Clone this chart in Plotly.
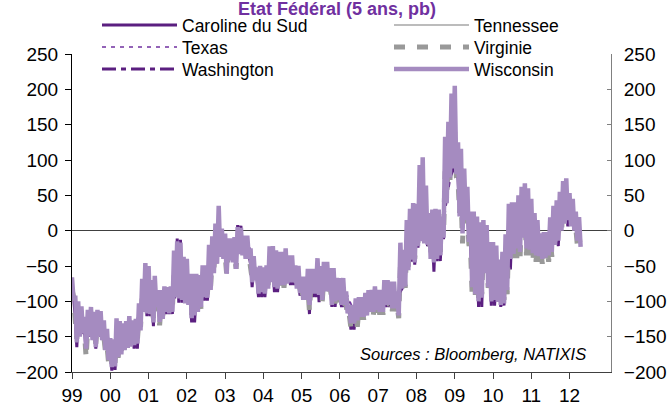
import plotly.graph_objects as go

# ---------------- data (basis points), monthly Jan 1999 - Apr 2012 ----------------
# Wisconsin: monthly high / low
wis_high = [
    -66, -92, -100, -107, -122, -112, -108, -115, -112, -114, -127, -139,
    -152, -154, -124, -128, -131, -128, -121, -127, -125, -103, -68, -46,
    -50, -70, -64, -84, -84, -79, -80, -79, -28, -15, -17, -37,
    -40, -61, -61, -61, -63, -49, -49, -20, -8, 10, 35, 3,
    -4, -11, -11, -9, 5, 4, -7, -7, -25, -36, -52, -50,
    -52, -49, -22, -22, -28, -30, -30, -25, -35, -35, -49, -50,
    -65, -65, -54, -54, -54, -39, -50, -44, -44, -53, -53, -67,
    -67, -67, -86, -105, -105, -96, -94, -94, -88, -84, -84, -79,
    -84, -84, -70, -70, -72, -72, -86, -17, -27, 15, 31, 39,
    38, 93, 104, 64, 25, 30, 31, 30, 20, 133, 154, 194,
    205, 125, 116, 88, 62, 27, 27, 20, 12, 15, 8, -16,
    -16, -21, -41, -30, -5, 38, 40, 40, 50, 62, 67, 60,
    45, 25, 15, -4, -2, -2, 19, 35, 43, 55, 70, 74,
    53, 45, 27, 19,
]
wis_low = [
    -98, -158, -150, -145, -167, -150, -155, -165, -150, -155, -169, -183,
    -193, -192, -179, -175, -169, -166, -164, -162, -160, -141, -115, -117,
    -118, -130, -108, -129, -125, -115, -117, -115, -94, -96, -98, -103,
    -105, -124, -120, -115, -108, -94, -95, -84, -60, -47, -37, -40,
    -61, -42, -45, -54, -33, -35, -40, -40, -73, -70, -89, -87,
    -89, -82, -73, -80, -82, -77, -77, -75, -73, -73, -82, -88,
    -98, -98, -105, -89, -89, -91, -98, -86, -86, -105, -100, -98,
    -105, -105, -117, -131, -131, -127, -122, -122, -120, -115, -115, -112,
    -115, -115, -105, -105, -110, -110, -120, -82, -79, -56, -41, -45,
    -22, -15, -18, -20, -40, -45, -40, -35, -10, 39, 75, 88,
    80, 20, -4, 15, -16, -80, -90, -100, -95, -60, -80, -100,
    -98, -101, -105, -103, -84, -40, -33, -25, -30, -10, -25, -27,
    -32, -35, -36, -40, -38, -35, -30, -20, -14, 0, 10, 15,
    6, 0, -14, -23,
]
# Caroline du Sud: monthly high / low
car_high = [
    -80, -123, -123, -124, -142, -129, -129, -138, -129, -132, -146, -159,
    -170, -171, -149, -149, -148, -145, -140, -142, -140, -120, -89, -79,
    -82, -98, -84, -104, -102, -95, -96, -95, -59, -11, -13, -68,
    -70, -90, -88, -86, -83, -69, -70, -50, -32, -16, 1, -16,
    -30, -24, -26, -29, 8, 7, -21, -21, -47, -51, -68, -66,
    -68, -63, -45, -49, -53, -51, -51, -48, -52, -52, -63, -67,
    -79, -79, -77, -69, -69, -63, -72, -63, -63, -77, -74, -80,
    -84, -84, -99, -116, -116, -109, -106, -106, -102, -97, -97, -93,
    -97, -97, -85, -85, -89, -89, -101, -47, -51, -18, -3, -1,
    10, 41, 45, 24, -5, -5, -2, 0, 7, 88, 116, 143,
    144, 74, 58, 53, 25, -24, -29, -38, -39, -20, -34, -56,
    -55, -59, -71, -64, -42, 1, 5, 9, 12, 28, 23, 18,
    8, -3, -8, -20, -18, -16, -3, 9, 16, 29, 42, 46,
    31, 24, 8, 0,
]
car_low = [
    -93, -165, -145, -140, -172, -145, -150, -167, -145, -150, -164, -178,
    -198, -197, -174, -170, -164, -161, -159, -167, -167, -136, -110, -121,
    -121, -135, -103, -124, -120, -118, -118, -118, -89, -102, -102, -98,
    -100, -130, -130, -110, -103, -99, -99, -79, -55, -42, -32, -35,
    -56, -37, -40, -49, -28, -30, -35, -35, -80, -65, -94, -94,
    -94, -77, -68, -87, -87, -72, -72, -70, -77, -77, -77, -92,
    -93, -93, -118, -94, -94, -101, -93, -81, -81, -108, -108, -93,
    -108, -108, -112, -140, -140, -122, -117, -117, -115, -110, -110, -107,
    -110, -110, -108, -108, -105, -105, -115, -77, -74, -51, -44, -48,
    -24, -10, -13, -22, -35, -58, -43, -43, -12, 44, 80, 93,
    85, 25, 1, 20, -11, -75, -85, -108, -108, -55, -75, -106,
    -106, -96, -108, -106, -79, -55, -28, -20, -25, -5, -20, -22,
    -27, -30, -31, -35, -33, -30, -25, -15, -22, 5, 15, 6,
    11, 5, -9, -18,
]
# Virginie: monthly high / low
vir_high = [
    -84, -127, -127, -128, -146, -133, -133, -142, -133, -136, -150, -163,
    -174, -175, -153, -153, -152, -149, -144, -146, -144, -124, -93, -83,
    -86, -102, -88, -108, -106, -99, -100, -99, -63, -57, -59, -72,
    -74, -94, -92, -90, -87, -73, -74, -54, -36, -20, -3, -20,
    -34, -28, -30, -33, -16, -17, -25, -25, -51, -55, -72, -70,
    -72, -67, -49, -53, -57, -55, -55, -52, -56, -56, -67, -71,
    -83, -83, -81, -73, -73, -67, -76, -67, -67, -81, -78, -84,
    -88, -88, -103, -120, -120, -113, -110, -110, -106, -101, -101, -97,
    -101, -101, -89, -89, -93, -93, -105, -51, -55, -22, -7, -5,
    6, 37, 41, 20, -9, -9, -6, -4, 3, 84, 112, 139,
    140, 70, 54, 49, 21, -28, -33, -42, -43, -24, -38, -60,
    -59, -63, -75, -68, -46, -3, 1, 5, 8, 24, 19, 14,
    4, -7, -12, -24, -22, -20, -7, 5, 12, 25, 38, 42,
    27, 20, 4, -4,
]
vir_low = [
    -93, -153, -145, -140, -180, -145, -150, -160, -157, -150, -171, -187,
    -188, -187, -180, -170, -168, -161, -159, -157, -155, -136, -110, -112,
    -113, -125, -103, -134, -120, -110, -112, -110, -89, -91, -93, -98,
    -100, -119, -115, -110, -111, -89, -90, -79, -55, -42, -32, -35,
    -61, -37, -40, -54, -28, -30, -35, -35, -68, -65, -84, -82,
    -84, -77, -68, -75, -77, -81, -81, -70, -68, -68, -77, -83,
    -101, -101, -114, -84, -84, -86, -100, -88, -88, -100, -103, -101,
    -103, -103, -124, -138, -138, -136, -126, -126, -124, -119, -119, -116,
    -119, -119, -107, -107, -114, -114, -124, -86, -81, -51, -36, -40,
    -17, -10, -13, -15, -35, -40, -35, -30, -5, 44, 70, 84,
    76, 25, -18, 20, -20, -91, -91, -95, -90, -55, -81, -95,
    -93, -96, -100, -98, -90, -35, -39, -39, -39, -5, -35, -35,
    -44, -44, -44, -47, -44, -44, -37, -15, -9, -4, 15, 20,
    11, 5, -21, -30,
]
# Quarterly readings (mid-quarter) for the series mostly hidden under Wisconsin
ten_q = [-125, -145, -140, -148, -173, -150, -145, -92, -100, -105, -97, -58, -92, -85,
         -52, 0, -26, -14, -23, -70, -65, -55, -50, -65, -81, -71, -65, -76, -86, -118,
         -108, -100, -100, -100, -80, -5, 39, -7, -10, 80, 110, 23, -40, -36, -61, -45,
         8, 21, -5, -20, 8, 40, 22, -2]
tex_q = [-120, -141, -135, -144, -168, -146, -141, -90, -96, -101, -93, -54, -88, -81,
         -48, 4, -22, -11, -19, -66, -61, -51, -46, -61, -77, -67, -61, -72, -82, -114,
         -104, -96, -96, -96, -78, -1, 43, -3, -6, 84, 114, 27, -36, -32, -57, -41,
         12, 25, -1, -16, 12, 44, 26, 2]
was_q = [-130, -150, -145, -152, -178, -155, -149, -96, -105, -110, -102, -62, -97, -90,
         -56, -4, -30, -18, -27, -74, -69, -59, -54, -69, -85, -75, -69, -80, -90, -122,
         -112, -104, -104, -104, -82, -9, 35, -11, -12, 76, 106, 19, -44, -40, -65, -49,
         4, 17, -9, -24, 4, 36, 18, -6]

year_labels = ['99', '00', '01', '02', '03', '04', '05', '06', '07', '08', '09', '10', '11', '12']
year_ticks = [f"{1999 + i}-01-01" for i in range(len(year_labels))]
y_ticks = [-200, -150, -100, -50, 0, 50, 100, 150, 200, 250]

# ---------------- x positions ----------------
n = len(wis_high)
month_keys = [f"{1999 + i // 12}-{i % 12 + 1:02d}" for i in range(n)]


def zigzag(highs, lows):
    xs, ys = [], []
    for k, hi, lo in zip(month_keys, highs, lows):
        xs += [k + "-01", k + "-16"]
        ys += [hi, lo]
    return xs, ys


q_idx = list(range(1, 158, 3)) + [159]
q_dates = [month_keys[i] + "-16" for i in q_idx]

DARK = '#5B1F80'
PURPLE = '#7030A0'
LIGHT = '#A58BC0'
W, H = 670, 412
L, R, T, B = 72, 59, 54, 40

fig = go.Figure()
x, y = zigzag(car_high, car_low)
fig.add_trace(go.Scatter(x=x, y=y, mode='lines', name='Caroline du Sud', legend='legend',
                         yaxis='y', line=dict(color=DARK, width=3)))
fig.add_trace(go.Scatter(x=q_dates, y=ten_q, mode='lines', name='Tennessee', legend='legend2',
                         yaxis='y2', line=dict(color='#A6A6A6', width=1.5)))
fig.add_trace(go.Scatter(x=q_dates, y=tex_q, mode='lines', name='Texas', legend='legend3',
                         yaxis='y2', line=dict(color=PURPLE, width=1.5, dash='4px,5px')))
x, y = zigzag(vir_high, vir_low)
fig.add_trace(go.Scatter(x=x, y=y, mode='lines', name='Virginie', legend='legend4',
                         yaxis='y2', line=dict(color='#999999', width=5, dash='11px,12px')))
fig.add_trace(go.Scatter(x=q_dates, y=was_q, mode='lines', name='Washington', legend='legend5',
                         yaxis='y2', line=dict(color=DARK, width=3, dash='14px,5px,5px,5px')))
x, y = zigzag(wis_high, wis_low)
fig.add_trace(go.Scatter(x=x, y=y, mode='lines', name='Wisconsin', legend='legend6',
                         yaxis='y2', line=dict(color=LIGHT, width=4.5)))

FONT = 'Liberation Sans, Arial, sans-serif'


def legend_at(px, py):
    return dict(xref='container', yref='container', x=px / W, y=1 - py / H,
                xanchor='left', yanchor='top', bgcolor='rgba(0,0,0,0)',
                font=dict(family=FONT, size=17.5, color='black'),
                itemwidth=75, borderwidth=0)


LX1, LX2 = 97, 389
ROWS = [7, 29, 51]

fig.update_layout(
    width=W, height=H,
    margin=dict(l=L, r=R, t=T, b=B, autoexpand=False),
    paper_bgcolor='white', plot_bgcolor='white',
    font=dict(family=FONT, size=19, color='black'),
    showlegend=True,
    legend=legend_at(LX1, ROWS[0]),
    legend2=legend_at(LX2, ROWS[0]),
    legend3=legend_at(LX1, ROWS[1]),
    legend4=legend_at(LX2, ROWS[1]),
    legend5=legend_at(LX1, ROWS[2]),
    legend6=legend_at(LX2, ROWS[2]),
    xaxis=dict(type='date', range=['1999-01-01', '2013-01-31'],
               tickvals=year_ticks, ticktext=year_labels,
               ticks='outside', ticklen=6, tickcolor='#404040', tickwidth=1,
               showline=True, linecolor='#404040', linewidth=1,
               showgrid=False, zeroline=False),
    yaxis=dict(range=[-200, 250], tickvals=y_ticks,
               ticks='outside', ticklen=6, tickcolor='black', tickwidth=1,
               ticklabelstandoff=3,
               showline=True, linecolor='black', linewidth=1,
               showgrid=False, zeroline=True, zerolinecolor='#404040', zerolinewidth=1),
    yaxis2=dict(range=[-200, 250], tickvals=y_ticks, overlaying='y', side='right', anchor='x',
                ticks='inside', ticklen=4, tickcolor='#808080', tickwidth=1,
                ticklabelstandoff=8,
                showline=True, linecolor='#808080', linewidth=1,
                showgrid=False, zeroline=False),
    annotations=[
        dict(text='<b>Etat Fédéral (5 ans, pb)</b>', xref='paper', yref='paper',
             x=(337 - L) / (W - L - R), y=(H - B - 9) / (H - T - B),
             xanchor='center', yanchor='middle',
             showarrow=False, font=dict(family=FONT, size=18, color=PURPLE)),
        dict(text='<i>Sources : Bloomberg, NATIXIS</i>', xref='paper', yref='paper',
             x=(588 - L) / (W - L - R), y=(H - B - 354) / (H - T - B),
             xanchor='right', yanchor='middle',
             showarrow=False, font=dict(family=FONT, size=16.5, color='black')),
    ],
)

fig.write_html("out.html", config={'displayModeBar': False},
               post_script="document.body.style.margin='0';")
